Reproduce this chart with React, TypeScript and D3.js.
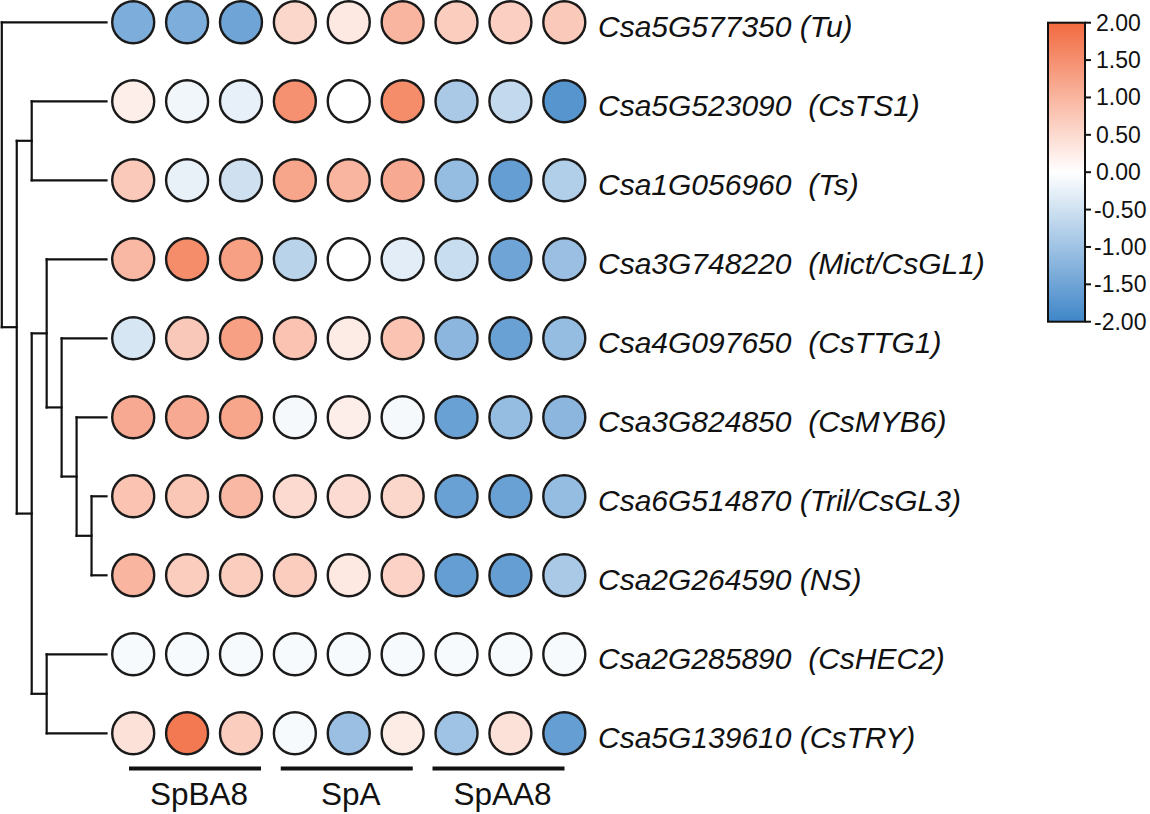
import React from "react";
import * as d3 from "d3";

const genes = [
  "Csa5G577350 (Tu)",
  "Csa5G523090  (CsTS1)",
  "Csa1G056960  (Ts)",
  "Csa3G748220  (Mict/CsGL1)",
  "Csa4G097650  (CsTTG1)",
  "Csa3G824850  (CsMYB6)",
  "Csa6G514870 (Tril/CsGL3)",
  "Csa2G264590 (NS)",
  "Csa2G285890  (CsHEC2)",
  "Csa5G139610 (CsTRY)",
];

const groups = ["SpBA8", "SpA", "SpAA8"];
const samples = ["SpBA8-1", "SpBA8-2", "SpBA8-3", "SpA-1", "SpA-2", "SpA-3", "SpAA8-1", "SpAA8-2", "SpAA8-3"];

const rowTu = [-1.35, -1.35, -1.5, 0.55, 0.3, 1.0, 0.67, 0.65, 0.72];
const rowCsTS1 = [0.23, -0.15, -0.25, 1.48, 0.0, 1.55, -0.9, -0.62, -1.75];
const rowTs = [0.73, -0.24, -0.5, 1.2, 1.0, 1.15, -1.1, -1.6, -0.8];
const rowMict = [0.95, 1.55, 1.28, -0.73, 0.0, -0.3, -0.57, -1.5, -1.05];
const rowCsTTG1 = [-0.42, 0.74, 1.28, 0.8, 0.27, 0.8, -1.2, -1.55, -1.1];
const rowCsMYB6 = [1.15, 1.15, 1.2, -0.1, 0.23, -0.1, -1.55, -1.1, -1.2];
const rowTril = [0.8, 0.77, 0.95, 0.5, 0.47, 0.55, -1.55, -1.55, -1.1];
const rowNS = [1.0, 0.67, 0.67, 0.67, 0.3, 0.6, -1.6, -1.6, -0.9];
const rowCsHEC2 = [-0.08, -0.08, -0.08, -0.08, -0.08, -0.08, -0.08, -0.08, -0.08];
const rowCsTRY = [0.4, 1.8, 0.67, -0.08, -1.05, 0.27, -1.0, 0.4, -1.6];

const values = [rowTu, rowCsTS1, rowTs, rowMict, rowCsTTG1, rowCsMYB6, rowTril, rowNS, rowCsHEC2, rowCsTRY];

const legendTicks = [2, 1.5, 1, 0.5, 0, -0.5, -1, -1.5, -2];

// dendrogram: h = merge height, leaf = row index
const dendro = {
  h: 7,
  children: [
    { leaf: 0 },
    {
      h: 6,
      children: [
        { h: 5, children: [{ leaf: 1 }, { leaf: 2 }] },
        {
          h: 5,
          children: [
            {
              h: 4,
              children: [
                { leaf: 3 },
                {
                  h: 3,
                  children: [
                    { leaf: 4 },
                    { h: 2, children: [{ leaf: 5 }, { h: 1, children: [{ leaf: 6 }, { leaf: 7 }] }] },
                  ],
                },
              ],
            },
            { h: 4, children: [{ leaf: 8 }, { leaf: 9 }] },
          ],
        },
      ],
    },
  ],
};

const W = 1150;
const H = 814;
const FONT = "'Liberation Sans', Arial, Helvetica, sans-serif";

export default function App() {
  const x = d3.scalePoint<string>().domain(samples).range([133.2, 564.3]);
  const y = d3.scalePoint<string>().domain(genes).range([22.3, 733.3]);
  const color = d3
    .scaleLinear<string>()
    .domain([-2, 0, 2])
    .range(["#3f86c8", "#ffffff", "#f26a3f"])
    .interpolate(d3.interpolateRgb);
  const hx = d3.scaleLinear().domain([0, 7]).range([106.5, 1.8]);
  const gx = d3.scalePoint<string>().domain(groups).range([195, 498.5]);
  const ly = d3.scaleLinear().domain([2, -2]).range([22.7, 321.7]);

  const root = d3.hierarchy<any>(dendro);
  root.eachAfter((n: any) => {
    if (n.children) {
      n.yy = d3.mean(n.children, (c: any) => c.yy);
      n.xx = hx(n.data.h);
    } else {
      n.yy = y(genes[n.data.leaf]);
      n.xx = hx(0);
    }
  });
  const lines: { x1: number; y1: number; x2: number; y2: number }[] = [];
  root.each((n: any) => {
    if (n.children) {
      const ys = n.children.map((c: any) => c.yy);
      lines.push({ x1: n.xx, x2: n.xx, y1: d3.min(ys), y2: d3.max(ys) });
      n.children.forEach((c: any) => lines.push({ x1: n.xx, x2: c.xx, y1: c.yy, y2: c.yy }));
    }
  });

  const gradStops = d3.range(0, 1.0001, 0.125);

  return (
    <svg
      width={W}
      height={H}
      style={{ position: "absolute", left: 0, top: 0, background: "#fff" }}
      fontFamily={FONT}
    >
      <defs>
        <linearGradient id="lg" x1="0" y1="0" x2="0" y2="1">
          {gradStops.map((t) => (
            <stop key={t} offset={`${t * 100}%`} stopColor={color(2 - 4 * t)} />
          ))}
        </linearGradient>
      </defs>
      <rect width={W} height={H} fill="#fff" />

      {/* dendrogram */}
      <g stroke="#111" strokeWidth={2.2} strokeLinecap="square">
        {lines.map((l, i) => (
          <line key={i} x1={l.x1} y1={l.y1} x2={l.x2} y2={l.y2} />
        ))}
      </g>

      {/* circles */}
      <g stroke="#1a1a1a" strokeWidth={2.4}>
        {values.map((row, ri) =>
          row.map((v, ci) => (
            <circle key={`${ri}-${ci}`} cx={x(samples[ci])} cy={y(genes[ri])} r={21} fill={color(v)} />
          ))
        )}
      </g>

      {/* gene labels */}
      <g fontSize={30} fontStyle="italic" fill="#111">
        {genes.map((g) => (
          <text key={g} x={598} y={(y(g) as number) + 15} style={{ whiteSpace: "pre" }}>
            {g}
          </text>
        ))}
      </g>

      {/* group bars */}
      {groups.map((g) => (
        <g key={g}>
          <line x1={(gx(g) as number) - 66} x2={(gx(g) as number) + 66} y1={768.5} y2={768.5} stroke="#111" strokeWidth={4} />
          <text x={(gx(g) as number) + 4} y={805} fontSize={31.5} textAnchor="middle" fill="#111">
            {g}
          </text>
        </g>
      ))}

      {/* legend */}
      <rect x={1048} y={22.7} width={37} height={299} fill="url(#lg)" stroke="#111" strokeWidth={2} />
      {legendTicks.map((t) => (
        <g key={t}>
          <line x1={1085} x2={1091} y1={ly(t)} y2={ly(t)} stroke="#111" strokeWidth={2} />
          <text x={t < 0 ? 1094 : 1096} y={ly(t) + 8} fontSize={23} fill="#111">
            {t.toFixed(2).replace("\u2212", "-")}
          </text>
        </g>
      ))}
    </svg>
  );
}
